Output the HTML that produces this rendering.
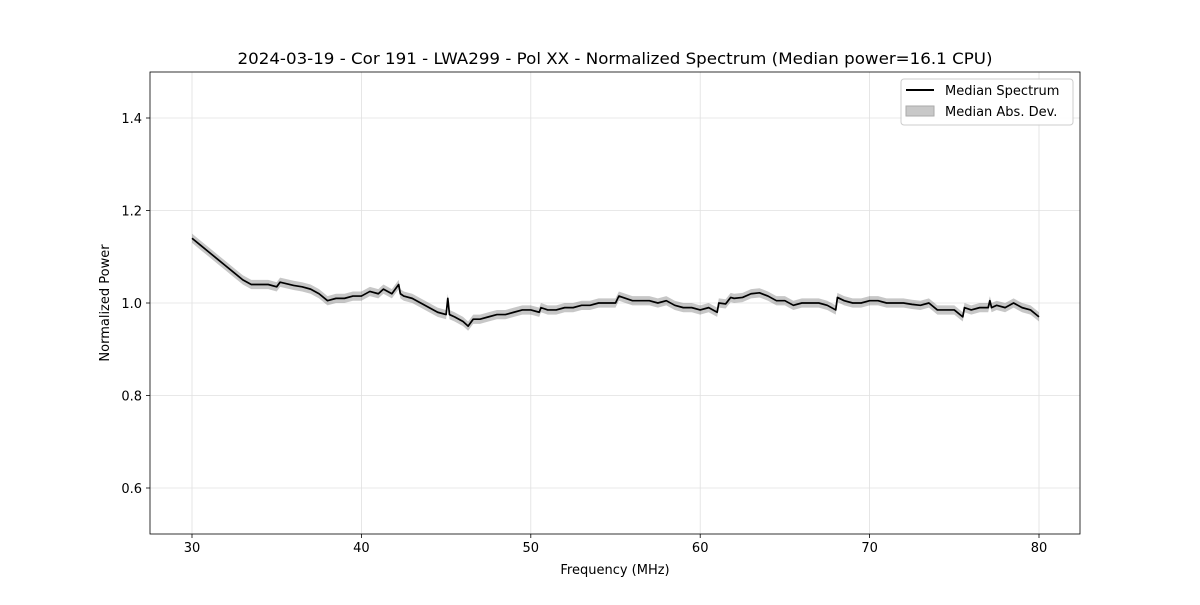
<!DOCTYPE html>
<html><head><meta charset="utf-8"><style>
body{margin:0;background:#fff;font-family:"Liberation Sans","DejaVu Sans",sans-serif}
svg text{font-family:"DejaVu Sans","Liberation Sans",sans-serif}
</style></head><body>
<svg id="c" width="1200" height="600" xmlns="http://www.w3.org/2000/svg"></svg>
<script>
const freqs=[30,30.5,31,31.5,32,32.5,33,33.5,34,34.5,35,35.2,36,36.5,37,37.5,38,38.5,39,39.5,40,40.5,41,41.3,41.8,42.2,42.3,42.5,43,43.5,44,44.5,45,45.1,45.2,45.5,46,46.3,46.6,47,47.5,48,48.5,49,49.5,50,50.5,50.6,51,51.5,52,52.5,53,53.5,54,54.5,55,55.2,56,56.5,57,57.5,58,58.5,59,59.5,60,60.5,61,61.1,61.5,61.8,62,62.5,63,63.5,64,64.5,65,65.5,66,66.5,67,67.5,68,68.1,68.5,69,69.5,70,70.5,71,71.5,72,72.5,73,73.5,74,74.5,75,75.5,75.6,76,76.5,77,77.1,77.2,77.5,78,78.5,79,79.5,80];
const medianPower=[1.14,1.125,1.11,1.095,1.08,1.065,1.05,1.04,1.04,1.04,1.035,1.045,1.038,1.035,1.03,1.02,1.005,1.01,1.01,1.015,1.015,1.025,1.02,1.03,1.02,1.04,1.02,1.015,1.01,1.0,0.99,0.98,0.975,1.01,0.975,0.97,0.96,0.95,0.965,0.965,0.97,0.975,0.975,0.98,0.985,0.985,0.98,0.99,0.985,0.985,0.99,0.99,0.995,0.995,1.0,1.0,1.0,1.015,1.005,1.005,1.005,1.0,1.005,0.995,0.99,0.99,0.985,0.99,0.98,1.0,0.998,1.012,1.01,1.012,1.02,1.022,1.015,1.005,1.005,0.995,1.0,1.0,1.0,0.995,0.985,1.012,1.005,1.0,1.0,1.005,1.005,1.0,1.0,1.0,0.997,0.995,1.0,0.985,0.985,0.985,0.97,0.99,0.985,0.99,0.99,1.005,0.99,0.995,0.99,1.0,0.99,0.985,0.97];
const madWidth=0.01;
const xTicks=[30,40,50,60,70,80];
const yTicks=[0.6,0.8,1.0,1.2,1.4];
const svg=document.getElementById('c');const NS='http://www.w3.org/2000/svg';
const L=150,R=1080,T=72,B=534;
const X=f=>192+(f-30)*(1039-192)/50;
const Y=v=>303-(v-1.0)*462.5;
function mk(t,a,p){const e=document.createElementNS(NS,t);for(const k in a)e.setAttribute(k,a[k]);(p||svg).appendChild(e);return e;}
mk('rect',{x:0,y:0,width:1200,height:600,fill:'#fff'});
xTicks.forEach(t=>{const g=mk('line',{x1:X(t),x2:X(t),y1:T,y2:B,stroke:'#e0e0e0','stroke-width':0.8});


mk('line',{x1:X(t),x2:X(t),y1:B,y2:B+4,stroke:'#000','stroke-width':0.8});
const tx=mk('text',{x:X(t),y:B+18,'text-anchor':'middle','font-size':13});tx.textContent=t;

});
yTicks.forEach(t=>{const g=mk('line',{x1:L,x2:R,y1:Y(t),y2:Y(t),stroke:'#e0e0e0','stroke-width':0.8});


mk('line',{x1:L-4,x2:L,y1:Y(t),y2:Y(t),stroke:'#000','stroke-width':0.8});
const tx=mk('text',{x:L-8,y:Y(t)+5,'text-anchor':'end','font-size':13});tx.textContent=t.toFixed(1);

});
let up=freqs.map((f,i)=>X(f)+','+Y(medianPower[i]+madWidth)).join(' ');
let dn=freqs.map((f,i)=>X(f)+','+Y(medianPower[i]-madWidth)).reverse().join(' ');
const band=mk('polygon',{points:up+' '+dn,fill:'#000','fill-opacity':0.22,stroke:'none'});


const ln=mk('polyline',{points:freqs.map((f,i)=>X(f)+','+Y(medianPower[i])).join(' '),fill:'none',stroke:'#000','stroke-width':1.7,'stroke-linejoin':'round'});


const fr=mk('rect',{x:L,y:T,width:R-L,height:B-T,fill:'none',stroke:'#000','stroke-width':0.8});


</script>
<svg style="position:absolute;left:0;top:0" width="1200" height="600">
<text x="615" y="64" text-anchor="middle" font-size="16" textLength="755" lengthAdjust="spacingAndGlyphs">2024-03-19 - Cor 191 - LWA299 - Pol XX - Normalized Spectrum (Median power=16.1 CPU)</text>
<text x="615" y="574" text-anchor="middle" font-size="13">Frequency (MHz)</text>
<text x="109" y="303" text-anchor="middle" font-size="13" transform="rotate(-90 109 303)">Normalized Power</text>
<g>
<rect x="901" y="79" width="172" height="46" rx="3" fill="#fff" fill-opacity="0.85" stroke="#ccc"/>
<line x1="906" y1="90" x2="934" y2="90" stroke="#000" stroke-width="2"/>
<text x="945" y="95" font-size="13">Median Spectrum</text>
<rect x="906" y="106" width="28" height="10" fill="#c8c8c8" stroke="#aaa"/>
<text x="945" y="116" font-size="13">Median Abs. Dev.</text>
</g>
</svg>
</body></html>
